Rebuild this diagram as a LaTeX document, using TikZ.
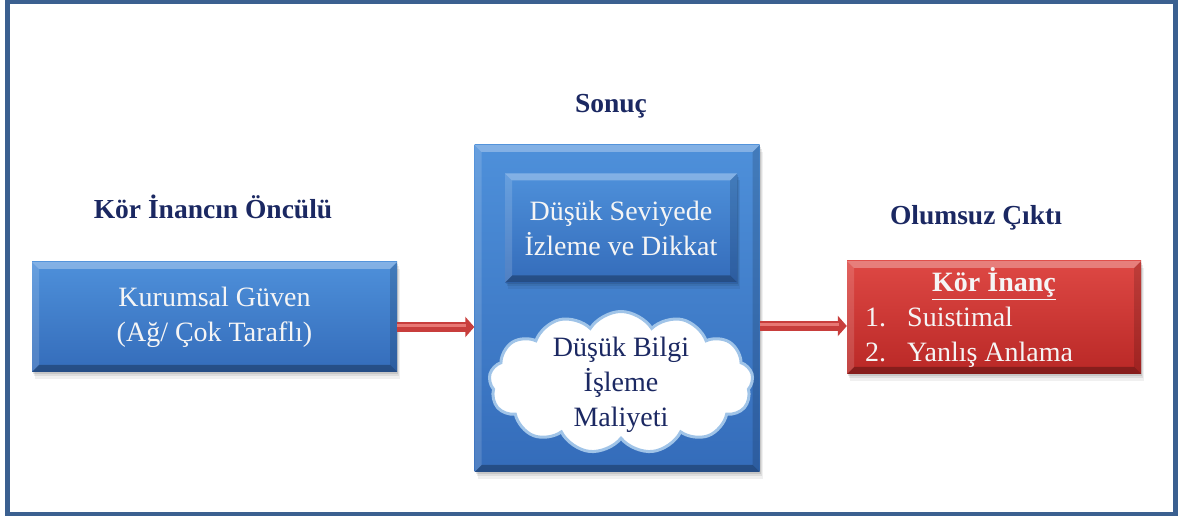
\documentclass[tikz,border=0pt]{standalone}
\usepackage{fontspec}
\setmainfont{Liberation Serif}
\newfontfamily\tnr{Liberation Serif}
\usetikzlibrary{arrows.meta,shapes.symbols}

\definecolor{frameblue}{RGB}{59,96,144}
\definecolor{navy}{RGB}{27,40,98}
\definecolor{boxtop}{RGB}{78,144,218}
\definecolor{boxbot}{RGB}{52,108,186}
\definecolor{redtop}{RGB}{222,72,68}
\definecolor{redbot}{RGB}{185,40,38}
\definecolor{arrowred}{RGB}{200,62,60}
\definecolor{arrowlight}{RGB}{232,120,116}
\definecolor{cloudedge}{RGB}{160,196,232}
\definecolor{boxtext}{RGB}{245,245,245}

\tikzset{
  bevel/.style={path picture={
    \fill[white,opacity=0.30] (path picture bounding box.north west) -- (path picture bounding box.north east)
      -- ([xshift=-#1,yshift=-#1]path picture bounding box.north east) -- ([xshift=#1,yshift=-#1]path picture bounding box.north west) -- cycle;
    \fill[black,opacity=0.28] (path picture bounding box.south west) -- (path picture bounding box.south east)
      -- ([xshift=-#1,yshift=#1]path picture bounding box.south east) -- ([xshift=#1,yshift=#1]path picture bounding box.south west) -- cycle;
    \fill[white,opacity=0.14] (path picture bounding box.north west) -- (path picture bounding box.south west)
      -- ([xshift=#1,yshift=#1]path picture bounding box.south west) -- ([xshift=#1,yshift=-#1]path picture bounding box.north west) -- cycle;
    \fill[black,opacity=0.14] (path picture bounding box.north east) -- (path picture bounding box.south east)
      -- ([xshift=-#1,yshift=#1]path picture bounding box.south east) -- ([xshift=-#1,yshift=-#1]path picture bounding box.north east) -- cycle;
  }},
  softshadow/.style={
    preaction={fill=black,opacity=0.10,transform canvas={xshift=1pt,yshift=-2pt}},
    preaction={fill=black,opacity=0.08,transform canvas={xshift=2pt,yshift=-4pt}},
    preaction={fill=black,opacity=0.06,transform canvas={xshift=3pt,yshift=-7pt}}},
  bodyfont/.style={font=\tnr\fontsize{28}{35}\selectfont},
  bluebox/.style={rectangle, softshadow, top color=boxtop, bottom color=boxbot, bevel=7pt,
    text=boxtext, align=center, inner sep=0pt, bodyfont},
  redbox/.style={rectangle, softshadow, top color=redtop, bottom color=redbot, bevel=7pt, inner sep=0pt},
  heading/.style={text=navy, font=\tnr\fontsize{27.5}{30}\selectfont\bfseries, anchor=base},
  listtext/.style={text=boxtext, bodyfont, anchor=base west, inner sep=0pt},
  connector/.style={arrowred, line width=10pt, -{Triangle[length=9pt,width=20pt]},
    postaction={draw=arrowlight, line width=3pt, -, shorten >=8pt, transform canvas={yshift=1.5pt}}},
}

\begin{document}
\begin{tikzpicture}[x=1pt,y=-1pt]
\useasboundingbox (0,0) rectangle (1179,518);
\fill[white] (0,0) rectangle (1179,518);
\draw[frameblue,line width=4.5pt] (7.5,1.5) rectangle (1175.5,514);

% headings
\node[heading] (h1) at (213,219) {Kör İnancın Öncülü};
\node[heading] (h2) at (611,113) {Sonuç};
\node[heading] (h3) at (976,225) {Olumsuz Çıktı};

% left box
\node[bluebox, minimum width=365pt, minimum height=110pt] (src) at (214.5,317)
  {Kurumsal Güven\\(Ağ/ Çok Taraflı)};

% central box with inner box and cloud
\node[bluebox, minimum width=285pt, minimum height=327pt] (mid) at (617,308.5) {};
\node[bluebox, minimum width=232pt, minimum height=109pt] (lvl) at (621,228)
  {Düşük Seviyede\\İzleme ve Dikkat};
\node[cloud, cloud puffs=13, cloud puff arc=115, cloud ignores aspect, fill=white, draw=cloudedge,
  line width=3pt, minimum width=264pt, minimum height=142pt, inner sep=0pt] (cost) at (621,382.5) {};
\node[text=navy, align=center, bodyfont, inner sep=0pt] (costtext) at ([yshift=-2pt]cost.center)
  {Düşük Bilgi\\İşleme\\Maliyeti};

% right box
\node[redbox, minimum width=294pt, minimum height=113pt] (out) at (994,317.5) {};
\node[text=boxtext, font=\tnr\fontsize{28}{35}\selectfont\bfseries, anchor=base] (outt) at (994,292)
  {\underline{Kör İnanç}};
\node[listtext] (o1) at (865,327) {1.};
\node[listtext] (o1t) at (907,327) {Suistimal};
\node[listtext] (o2) at (865,362) {2.};
\node[listtext] (o2t) at (907,362) {Yanlış Anlama};

% connectors
\coordinate (a1) at ([yshift=-10pt]src.east);
\draw[connector] (a1) -- (a1 -| mid.west);
\coordinate (a2) at ([yshift=-8.5pt]out.west);
\draw[connector] (a2 -| mid.east) -- (a2);
\end{tikzpicture}
\end{document}
